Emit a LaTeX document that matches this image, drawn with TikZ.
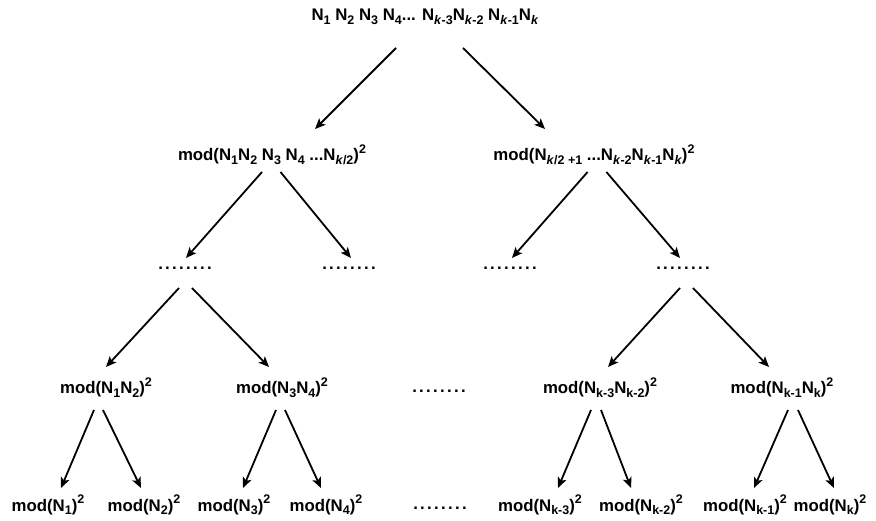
\documentclass[tikz,border=0pt]{standalone}
\usepackage{fontspec}
\setmainfont{Liberation Sans}
\usetikzlibrary{arrows.meta,calc}
\newcommand\lo[1]{\raisebox{-3.8pt}{\fontsize{12.5}{12.5}\selectfont #1}}
\newcommand\hi[1]{\raisebox{7.2pt}{\fontsize{12.5}{12.5}\selectfont #1}}
\newcommand\dotrow{.\kern2.3pt.\kern2.3pt.\kern2.3pt.\kern2.3pt.\kern2.3pt.\kern2.3pt.\kern2.3pt.}
\begin{document}
\begin{tikzpicture}[x=1pt,y=-1pt,
  lbl/.style={inner sep=0pt,anchor=base,font=\fontsize{16.8}{18}\selectfont\bfseries},
  arr/.style={line width=1.8pt,-{Stealth[length=10.5pt,width=9pt,inset=2.5pt]}}]
\useasboundingbox (0,0) rectangle (876,521);
% level 0
\node[lbl] (top) at (425,21) {N\lo{1} N\lo{2} N\lo{3} N\lo{4}... N\lo{\textit{k}-3}N\lo{\textit{k}-2} N\lo{\textit{k}-1}N\lo{\textit{k}}};
% level 1
\node[lbl] (l1) at (272,161) {mod(N\lo{1}N\lo{2} N\lo{3} N\lo{4} ...N\lo{\textit{k}/2})\hi{2}};
\node[lbl] (r1) at (594,161) {mod(N\lo{\textit{k}/2 +1} ...N\lo{\textit{k}-2}N\lo{\textit{k}-1}N\lo{\textit{k}})\hi{2}};
% level 2
\node[lbl] (d1) at (185,270) {\dotrow};
\node[lbl] (d2) at (349,270) {\dotrow};
\node[lbl] (d3) at (510,270) {\dotrow};
\node[lbl] (d4) at (683,270) {\dotrow};
% level 3
\node[lbl] (a) at (106,394) {mod(N\lo{1}N\lo{2})\hi{2}};
\node[lbl] (b) at (282,394) {mod(N\lo{3}N\lo{4})\hi{2}};
\node[lbl] (dm) at (439,392) {\dotrow};
\node[lbl] (c) at (600,394) {mod(N\lo{k-3}N\lo{k-2})\hi{2}};
\node[lbl] (d) at (782,394) {mod(N\lo{k-1}N\lo{k})\hi{2}};
% leaves
\node[lbl] (f1) at (48,511) {mod(N\lo{1})\hi{2}};
\node[lbl] (f2) at (144,511) {mod(N\lo{2})\hi{2}};
\node[lbl] (f3) at (234,511) {mod(N\lo{3})\hi{2}};
\node[lbl] (f4) at (326,511) {mod(N\lo{4})\hi{2}};
\node[lbl] (fm) at (440,509) {\dotrow};
\node[lbl] (f5) at (540,511) {mod(N\lo{k-3})\hi{2}};
\node[lbl] (f6) at (641,511) {mod(N\lo{k-2})\hi{2}};
\node[lbl] (f7) at (745,511) {mod(N\lo{k-1})\hi{2}};
\node[lbl] (f8) at (830,511) {mod(N\lo{k})\hi{2}};
% arrows level 0 -> 1
\draw[arr] ($(top.base)+(-29,27)$) -- ($(l1.base)+(43,-32)$);
\draw[arr] ($(top.base)+(38,27)$) -- ($(r1.base)+(-49,-32)$);
% level 1 -> 2
\draw[arr] ($(l1.base)+(-10,11)$) -- ($(d1.base)+(1,-12)$);
\draw[arr] ($(l1.base)+(8.5,11)$) -- ($(d2.base)+(2,-12)$);
\draw[arr] ($(r1.base)+(-6.4,11)$) -- ($(d3.base)+(2,-12)$);
\draw[arr] ($(r1.base)+(12.4,11)$) -- ($(d4.base)+(-3,-12)$);
% level 2 -> 3
\draw[arr] ($(d1.base)+(-6,18)$) -- ($(a.base)+(0,-27)$);
\draw[arr] ($(d1.base)+(7,18)$) -- ($(b.base)+(-13,-27)$);
\draw[arr] ($(d4.base)+(-3,18)$) -- ($(c.base)+(8,-27)$);
\draw[arr] ($(d4.base)+(10,18)$) -- ($(d.base)+(-13,-27)$);
% level 3 -> leaves
\draw[arr] ($(a.base)+(-12,16)$) -- ($(f1.base)+(13,-23)$);
\draw[arr] ($(a.base)+(-3,16)$) -- ($(f2.base)+(-3,-23)$);
\draw[arr] ($(b.base)+(-6,16)$) -- ($(f3.base)+(9,-23)$);
\draw[arr] ($(b.base)+(3,16)$) -- ($(f4.base)+(-5,-23)$);
\draw[arr] ($(c.base)+(-9,16)$) -- ($(f5.base)+(18,-23)$);
\draw[arr] ($(c.base)+(1,16)$) -- ($(f6.base)+(-10,-23)$);
\draw[arr] ($(d.base)+(6,16)$) -- ($(f7.base)+(9,-23)$);
\draw[arr] ($(d.base)+(16,16)$) -- ($(f8.base)+(4,-23)$);
\end{tikzpicture}
\end{document}
